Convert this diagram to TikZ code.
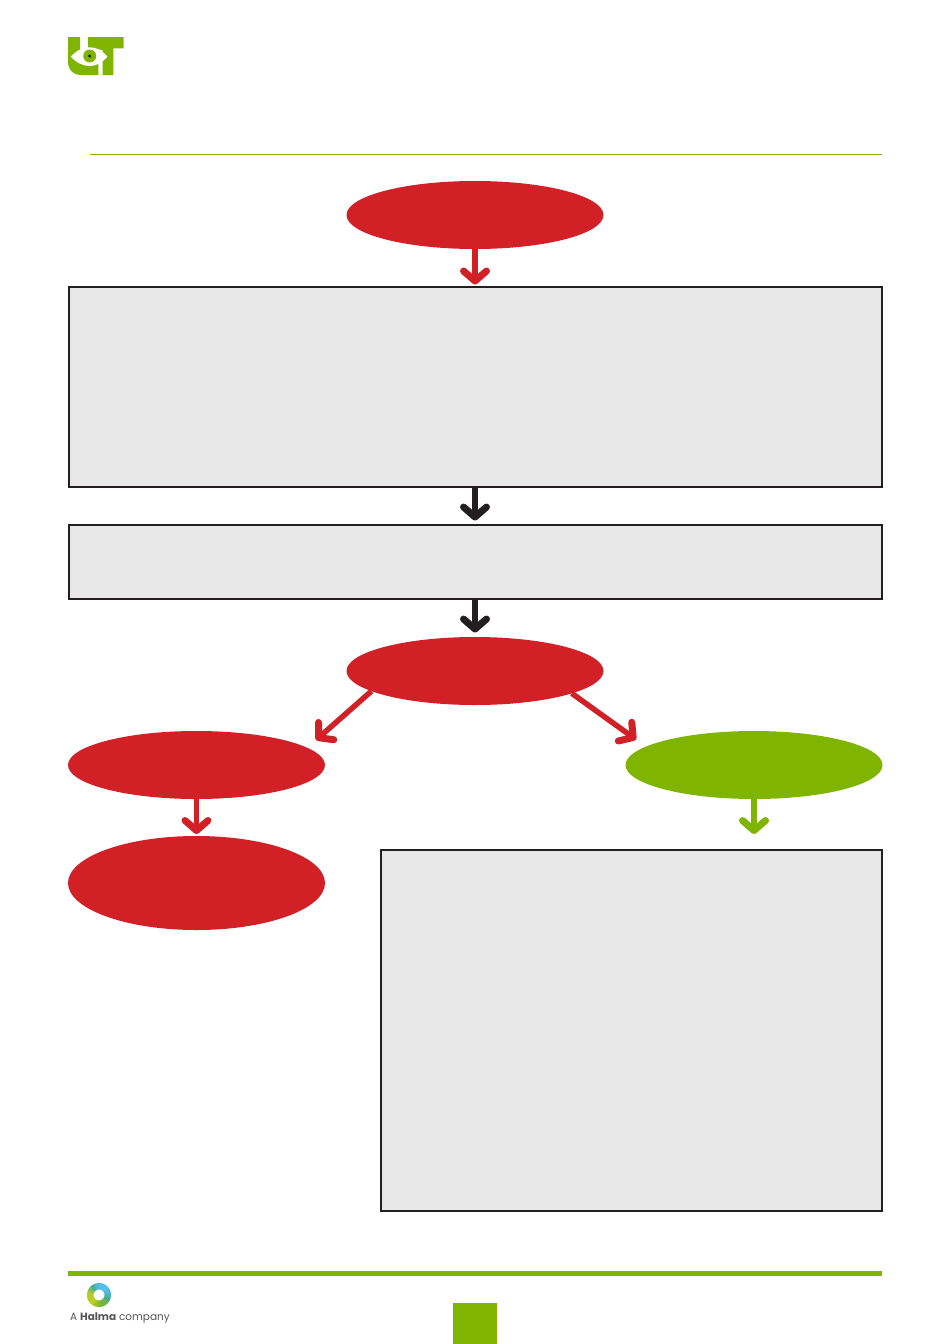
\documentclass[tikz,border=0pt]{standalone}
\usepackage{fontspec}
\setmainfont{Poppins}
\usetikzlibrary{shapes.geometric,arrows.meta}
\definecolor{utgreen}{HTML}{7FB500}
\definecolor{utred}{HTML}{D22027}
\definecolor{utblack}{HTML}{231F20}
\definecolor{utgrey}{HTML}{E8E8E8}
\definecolor{halmatext}{HTML}{555555}
\definecolor{hblue}{HTML}{55BDE6}
\definecolor{hteal}{HTML}{3FAE8E}
\definecolor{hlime}{HTML}{B9CE1E}
\definecolor{hgreen}{HTML}{6DB33F}
\tikzset{
  x=1pt,y=-1pt,
  oval/.style={ellipse,draw=none,fill=#1,minimum width=257pt,inner sep=0pt,outer sep=0pt},
  panel/.style={rectangle,draw=utblack,fill=utgrey,line width=2pt,inner sep=0pt,outer sep=0pt,anchor=north west},
  flow/.style={draw=#1,line width=5.5pt,line cap=butt,line join=round,
    -{Straight Barb[length=10pt,width=23pt,line width=7pt,round]}},
}
\begin{document}
\begin{tikzpicture}
\useasboundingbox (0,0) rectangle (950,1344);
% header logo
\fill[utgreen] (68,37) -- (80,37) -- (80,55) -- (98.3,55) -- (98.3,75) -- (82,75) .. controls (73,75) and (68,70) .. (68,61) -- cycle;
\fill[utgreen] (88,37) -- (123.5,37) -- (123.5,48.3) -- (113.3,48.3) -- (113.3,75) -- (102.7,75) -- (102.7,50) -- (88,48.3) -- cycle;
\fill[white] (70.7,56.7) .. controls (77,50) and (83,47.3) .. (89.5,47.3) .. controls (96,47.3) and (102,50) .. (107.3,56.7) .. controls (102,63) and (96,66) .. (89.5,66) .. controls (83,66) and (77,63) .. (70.7,56.7) -- cycle;
\fill[utgreen] (89.7,56) circle[radius=6.5];
\fill[utblack] (89.7,56) circle[radius=1.8];
\draw[utgreen,line width=1pt] (90,154.5) -- (882,154.5);
% nodes
\node[oval=utred,minimum height=68pt] (start) at (475,215) {};
\node[panel,minimum width=813pt,minimum height=200pt] (panelA) at (68.5,287) {};
\node[panel,minimum width=813pt,minimum height=74pt] (panelB) at (68.5,525) {};
\node[oval=utred,minimum height=68pt] (decision) at (475,671) {};
\node[oval=utred,minimum height=68pt] (failA) at (196.5,765) {};
\node[oval=utgreen,minimum height=68pt] (passA) at (754,765) {};
\node[oval=utred,minimum height=94pt] (failB) at (196.5,883) {};
\node[panel,minimum width=500.5pt,minimum height=361pt] (panelC) at (381,850) {};
% free ends
\coordinate (leftEnd) at (316,740);
\coordinate (rightEnd) at (636,739.5);
\coordinate (greenEnd) at (754,834);
% connectors
\draw[flow=utred,shorten >=2.5pt] (start) -- (panelA);
\draw[flow=utblack,shorten >=4.5pt] (panelA) -- (panelB);
\draw[flow=utblack,shorten >=4.5pt] (panelB) -- (decision);
\draw[flow=utred] (decision.191) -- (leftEnd);
\draw[flow=utred] (decision.-13) -- (rightEnd);
\draw[flow=utred,shorten >=2pt] (failA) -- (failB);
\draw[flow=utgreen] (passA) -- (greenEnd);
% footer
\draw[utgreen,line width=5pt] (68,1273.5) -- (882,1273.5);
\fill[utgreen] (453,1303) rectangle (497,1344);
% ring, clockwise from the top
\foreach \a/\c in {
 0/hblue,15/hblue,30/hblue,45/hblue,60/hblue!85!hteal,75/hblue!65!hteal,90/hblue!40!hteal,105/hteal,
 120/hteal!60!hgreen,135/hgreen,150/hgreen,165/hgreen!80!hlime,180/hgreen!55!hlime,195/hgreen!30!hlime,
 210/hlime,225/hlime,240/hlime,255/hlime,270/hlime,285/hlime!70!hteal,300/hlime!40!hteal,315/hteal,
 330/hteal!55!hblue,345/hblue!80!hteal}{
  \pgfmathsetmacro{\angA}{\a-90-0.8}
  \pgfmathsetmacro{\angB}{\a-90+8}
  \pgfmathsetmacro{\angC}{\a-90+15.8}
  \fill[\c] ({99+12*cos(\angA)},{1295+12*sin(\angA)})
    -- ({99+12*cos(\angB)},{1295+12*sin(\angB)})
    -- ({99+12*cos(\angC)},{1295+12*sin(\angC)})
    -- ({99+5.5*cos(\angC)},{1295+5.5*sin(\angC)})
    -- ({99+5.5*cos(\angB)},{1295+5.5*sin(\angB)})
    -- ({99+5.5*cos(\angA)},{1295+5.5*sin(\angA)}) -- cycle;
}
\node[anchor=base west,inner sep=0pt,font=\fontsize{10.5}{13}\selectfont,text=halmatext] (halma) at (70,1320) {A \textbf{Halma} company};
\end{tikzpicture}
\end{document}
